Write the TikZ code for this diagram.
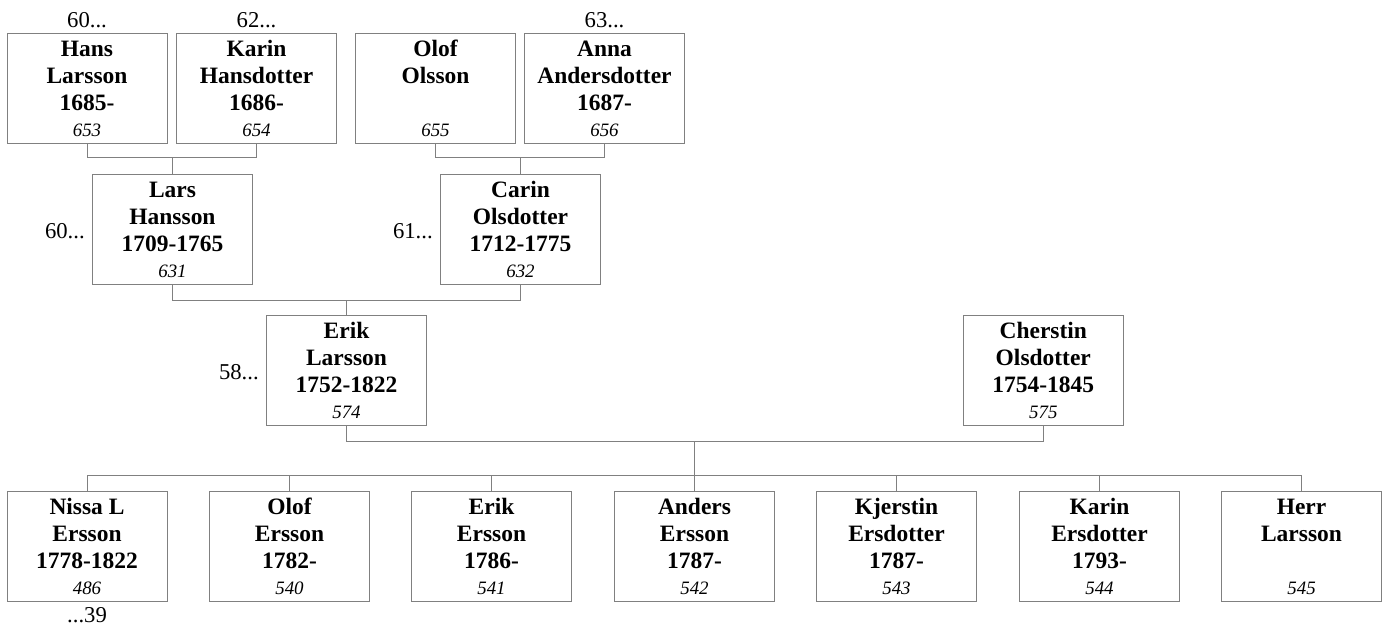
\documentclass[tikz,border=0pt]{standalone}
\usepackage{fontspec}
\setmainfont{Liberation Serif}
\usetikzlibrary{calc}
\definecolor{linegray}{RGB}{128,128,128}
\tikzset{
  pbox/.style={draw=linegray, line width=0.75pt, fill=white, minimum width=120pt, minimum height=82.5pt, inner sep=0pt},
  conn/.style={draw=linegray, line width=0.75pt},
  nm/.style={anchor=base, inner sep=0pt, font=\fontsize{17.6}{20}\selectfont\bfseries},
  num/.style={anchor=base, inner sep=0pt, font=\fontsize{14.2}{16}\selectfont\itshape},
  lab/.style={inner sep=0pt, font=\fontsize{17}{20}\selectfont},
}
\newcommand\pers[7]{%
  \node[pbox] (#1) at (#2,#3) {};
  \node[nm] (#1-a) at ($(#1.north)+(0,24)$) {#4};
  \node[nm] (#1-b) at ($(#1.north)+(0,51)$) {#5};
  \node[nm] (#1-c) at ($(#1.north)+(0,78)$) {#6};
  \node[num] (#1-n) at ($(#1.north)+(0,104)$) {#7};
}
\begin{document}
\begin{tikzpicture}[x=0.75pt,y=-0.75pt]
\useasboundingbox (0,0) rectangle (1388,626);
% row 1
\pers{hans}{87}{88}{Hans}{Larsson}{1685-}{653}
\pers{karin}{256.5}{88}{Karin}{Hansdotter}{1686-}{654}
\pers{olof}{435.5}{88}{Olof}{Olsson}{}{655}
\pers{anna}{604.5}{88}{Anna}{Andersdotter}{1687-}{656}
% row 2
\pers{lars}{172.5}{229}{Lars}{Hansson}{1709-1765}{631}
\pers{carin}{520.5}{229}{Carin}{Olsdotter}{1712-1775}{632}
% row 3
\pers{erik}{346.5}{370}{Erik}{Larsson}{1752-1822}{574}
\pers{cher}{1043.3}{370}{Cherstin}{Olsdotter}{1754-1845}{575}
% children
\pers{c1}{87}{546}{Nissa L}{Ersson}{1778-1822}{486}
\pers{c2}{289.5}{546}{Olof}{Ersson}{1782-}{540}
\pers{c3}{491.5}{546}{Erik}{Ersson}{1786-}{541}
\pers{c4}{694.5}{546}{Anders}{Ersson}{1787-}{542}
\pers{c5}{896.5}{546}{Kjerstin}{Ersdotter}{1787-}{543}
\pers{c6}{1099.5}{546}{Karin}{Ersdotter}{1793-}{544}
\pers{c7}{1301.5}{546}{Herr}{Larsson}{}{545}
% connectors
\draw[conn] (hans.south) -- ++(0,14) -| (karin.south);
\draw[conn] (lars.north) -- ++(0,-17);
\draw[conn] (olof.south) -- ++(0,14) -| (anna.south);
\draw[conn] (carin.north) -- ++(0,-17);
\draw[conn] (lars.south) -- ++(0,16) -| (carin.south);
\draw[conn] (erik.north) -- ++(0,-15);
\draw[conn] (erik.south) -- ++(0,16) -| (cher.south);
\draw[conn] (c4.north) -- ++(0,-50);
\draw[conn] (c1.north) -- ++(0,-15) -| (c7.north);
\foreach \c in {c2,c3,c5,c6} \draw[conn] (\c.north) -- ++(0,-15);
% labels
\node[lab, anchor=base] (l1) at ($(hans.north)+(0,-4.7)$) {60...};
\node[lab, anchor=base] (l2) at ($(karin.north)+(0,-4.7)$) {62...};
\node[lab, anchor=base] (l3) at ($(anna.north)+(0,-4.7)$) {63...};
\node[lab, anchor=base east] (l4) at ($(lars.west)+(-7,9)$) {60...};
\node[lab, anchor=base east] (l5) at ($(carin.west)+(-7,9)$) {61...};
\node[lab, anchor=base east] (l6) at ($(erik.west)+(-7,9)$) {58...};
\node[lab, anchor=base] (l7) at ($(c1.south)+(0,21)$) {...39};
\end{tikzpicture}
\end{document}
